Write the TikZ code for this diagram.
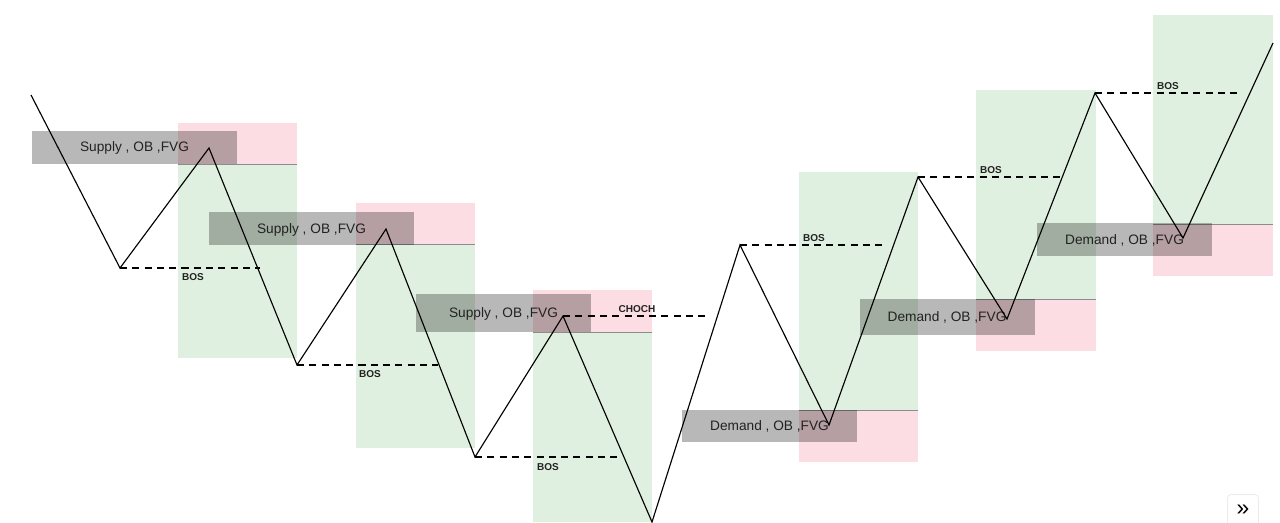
\documentclass[tikz,border=0pt]{standalone}
\usepackage{fontspec}
\setmainfont{Liberation Sans}
\usepackage{xcolor}
\usetikzlibrary{positioning}

\definecolor{zonegreen}{RGB}{224,240,224}
\definecolor{zonered}{RGB}{252,221,227}
\definecolor{textgray}{RGB}{34,34,34}

\tikzset{
    zonelabel/.style={fill=black, fill opacity=0.28, text opacity=1, text=textgray, inner sep=0pt, text depth=0pt, font=\fontsize{7.8}{9}\selectfont},
    breakline/.style={dash pattern=on 4pt off 3pt, line width=0.6pt},
    breaklabel/.style={inner sep=1pt, text=textgray, font=\fontsize{5.7}{6}\selectfont\bfseries},
    divider/.style={draw=black!45, line width=0.5pt},
    price/.style={line width=0.65pt, line join=miter}
}

\begin{document}
\begin{tikzpicture}[x=0.02cm, y=-0.02cm]
    \useasboundingbox (0,0) rectangle (1280,522);
    % Zones: top colour, bottom colour
    \foreach \xa/\xb/\ya/\ym/\yb/\ca/\cb in {178/297/123/164/358/zonered/zonegreen,
        356/475/203/244/448/zonered/zonegreen,
        533/652/290/332/522/zonered/zonegreen,
        799/918/172/410/462/zonegreen/zonered,
        976/1096/90/299/351/zonegreen/zonered,
        1153/1273/15/224/276/zonegreen/zonered}
    {
        \fill[\ca] (\xa,\ya) rectangle (\xb,\ym);
        \fill[\cb] (\xa,\ym) rectangle (\xb,\yb);
        \draw[divider] (\xa,\ym) -- (\xb,\ym);
    }
    % Labels
    \node[zonelabel, minimum width=4.1cm, minimum height=0.66cm] (supA) at (134.5,147) {Supply , OB ,FVG};
    \node[zonelabel, minimum width=4.1cm, minimum height=0.66cm] (supB) at (311.5,228.5) {Supply , OB ,FVG};
    \node[zonelabel, minimum width=3.5cm, minimum height=0.76cm] (supC) at (503.5,313) {Supply , OB ,FVG};
    \node[zonelabel, minimum width=3.5cm, minimum height=0.64cm] (demA) at (769.5,426) {Demand , OB ,FVG};
    \node[zonelabel, minimum width=3.5cm, minimum height=0.72cm] (demB) at (947,317) {Demand , OB ,FVG};
    \node[zonelabel, minimum width=3.5cm, minimum height=0.66cm] (demC) at (1124.5,239.5) {Demand , OB ,FVG};
    % Swing points
    \coordinate (sw0) at (31,95);
    \coordinate (sw1) at (120,268);
    \coordinate (sw2) at (209,148);
    \coordinate (sw3) at (297,365);
    \coordinate (sw4) at (386,229);
    \coordinate (sw5) at (475,457);
    \coordinate (sw6) at (563,316);
    \coordinate (sw7) at (652,522);
    \coordinate (sw8) at (740,245);
    \coordinate (sw9) at (829,425);
    \coordinate (sw10) at (918,177);
    \coordinate (sw11) at (1007,319);
    \coordinate (sw12) at (1095,93);
    \coordinate (sw13) at (1183,238);
    \coordinate (sw14) at (1273,43);
    % Breaks of structure
    \coordinate (bosA) at (260,268);
    \coordinate (bosB) at (438,365);
    \coordinate (bosC) at (617,457);
    \coordinate (choch) at (705,316);
    \coordinate (bosD) at (882,245);
    \coordinate (bosE) at (1060,177);
    \coordinate (bosF) at (1237,93);
    \draw[breakline] (sw1) -- (bosA);
    \draw[breakline] (sw3) -- (bosB);
    \draw[breakline] (sw5) -- (bosC);
    \draw[breakline] (sw6) -- (choch);
    \draw[breakline] (sw8) -- (bosD);
    \draw[breakline] (sw10) -- (bosE);
    \draw[breakline] (sw12) -- (bosF);
    \node[breaklabel] (bosAt) at (193,277) {BOS};
    \node[breaklabel] (bosBt) at (370,374) {BOS};
    \node[breaklabel] (bosCt) at (548,467) {BOS};
    \node[breaklabel] (chocht) at (637,309) {CHOCH};
    \node[breaklabel] (bosDt) at (814,238) {BOS};
    \node[breaklabel] (bosEt) at (991,170) {BOS};
    \node[breaklabel] (bosFt) at (1168,86) {BOS};
    % Price
    \draw[price] (sw0) -- (sw1) -- (sw2) -- (sw3) -- (sw4) -- (sw5) -- (sw6) -- (sw7)
        -- (sw8) -- (sw9) -- (sw10) -- (sw11) -- (sw12) -- (sw13) -- (sw14);
    % Corner button
    \node[draw=black!8, fill=white, rounded corners=2pt, minimum width=0.62cm, minimum height=0.62cm, inner sep=0pt, font=\fontsize{13}{13}\selectfont] (more) at (1243,510) {»};
\end{tikzpicture}
\end{document}
